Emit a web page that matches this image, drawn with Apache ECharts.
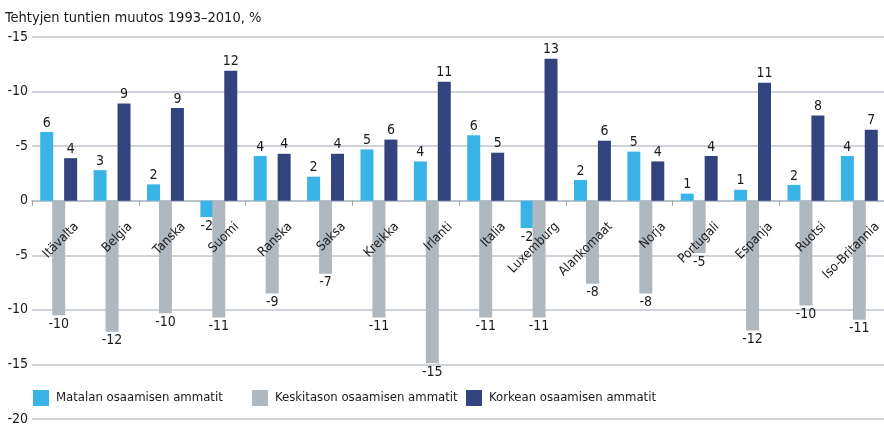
<!DOCTYPE html>
<html>
<head>
<meta charset="utf-8">
<script src="https://cdn.jsdelivr.net/npm/echarts@6/dist/echarts.min.js"></script>
<style>
  html, body { margin: 0; padding: 0; background: #fff; }
  #chart { width: 884px; height: 427px; }
</style>
</head>
<body>
<div id="chart"></div>
<script>
var countries = ['Itävalta', 'Belgia', 'Tanska', 'Suomi', 'Ranska', 'Saksa', 'Kreikka', 'Irlanti',
                 'Italia', 'Luxemburg', 'Alankomaat', 'Norja', 'Portugali', 'Espanja', 'Ruotsi', 'Iso-Britannia'];
var seriesNames = ['Matalan osaamisen ammatit', 'Keskitason osaamisen ammatit', 'Korkean osaamisen ammatit'];

// bar heights
var lowValues  = [6.3, 2.8, 1.5, -1.5, 4.1, 2.2, 4.7, 3.6, 6.0, -2.5, 1.9, 4.5, 0.65, 1.0, 1.45, 4.1];
var midValues  = [-10.5, -12.0, -10.3, -10.7, -8.5, -6.7, -10.7, -14.9, -10.7, -10.7, -7.6, -8.5, -4.8, -11.9, -9.6, -10.9];
var highValues = [3.9, 8.9, 8.5, 11.9, 4.3, 4.3, 5.6, 10.9, 4.4, 13.0, 5.5, 3.6, 4.1, 10.8, 7.8, 6.5];

// printed labels
var lowLabels  = [6, 3, 2, -2, 4, 2, 5, 4, 6, -2, 2, 5, 1, 1, 2, 4];
var midLabels  = [-10, -12, -10, -11, -9, -7, -11, -15, -11, -11, -8, -8, -5, -12, -10, -11];
var highLabels = [4, 9, 9, 12, 4, 4, 6, 11, 5, 13, 6, 4, 4, 11, 8, 7];

var colors = ['#3ab4e6', '#b0b8bf', '#33437d'];
var FONT = '"Liberation Sans Narrow", "DejaVu Sans Condensed", sans-serif';
var legendLeft = [28, 247, 461];

function makeData(values, labels) {
    return values.map(function (v, i) {
        return {
            value: v,
            label: { position: v < 0 ? 'bottom' : 'top', formatter: String(labels[i]) }
        };
    });
}

function makeSeries(idx, values, labels) {
    return {
        name: seriesNames[idx],
        type: 'bar',
        barWidth: 13,
        barGap: '-8%',
        itemStyle: { color: colors[idx] },
        label: { show: true, fontFamily: FONT, fontSize: 14, color: '#1a1a1a', distance: 2 },
        data: makeData(values, labels)
    };
}

// rotated country names hanging under the zero line
var nameSeries = {
    type: 'custom',
    silent: true,
    z: 5,
    data: countries.map(function (c, i) { return [i, 0]; }),
    renderItem: function (params, api) {
        var p = api.coord([api.value(0), api.value(1)]);
        return {
            type: 'text',
            x: p[0] + 18,
            y: p[1] + 24,
            rotation: 45 * Math.PI / 180,
            style: {
                text: countries[params.dataIndex],
                align: 'right',
                verticalAlign: 'middle',
                fontFamily: FONT,
                fontSize: 13,
                fill: '#1a1a1a'
            }
        };
    }
};

var chart = echarts.init(document.getElementById('chart'));
chart.setOption({
    animation: false,
    title: {
        text: 'Tehtyjen tuntien muutos 1993–2010, %',
        left: 0, top: 6,
        textStyle: { fontFamily: FONT, fontSize: 14.5, fontWeight: 'normal', color: '#1a1a1a' }
    },
    legend: seriesNames.map(function (name, i) {
        return {
            left: legendLeft[i], top: 385,
            itemWidth: 16, itemHeight: 16,
            icon: 'rect',
            textStyle: { fontFamily: FONT, fontSize: 13, color: '#1a1a1a', padding: [0, 0, 0, 2] },
            data: [name]
        };
    }),
    grid: { left: 32, right: -2, top: 37, bottom: 8, outerBoundsMode: 'none' },
    xAxis: {
        type: 'category',
        data: countries,
        axisLine: { onZero: true, lineStyle: { color: '#b4bec6', width: 1.5 } },
        axisTick: { show: true, length: 5, lineStyle: { color: '#9aa4ac' } },
        axisLabel: { show: false }
    },
    yAxis: {
        type: 'value',
        min: -20, max: 15, interval: 5,
        axisLine: { show: false },
        axisTick: { show: false },
        axisLabel: {
            margin: 4,
            fontFamily: FONT, fontSize: 14, color: '#1a1a1a',
            formatter: function (v) { return v === 0 ? '0' : '-' + Math.abs(v); }
        },
        splitLine: { lineStyle: { color: '#bcc5cc', width: 1.5 } }
    },
    series: [
        makeSeries(0, lowValues, lowLabels),
        makeSeries(1, midValues, midLabels),
        makeSeries(2, highValues, highLabels),
        nameSeries
    ]
});
</script>
</body>
</html>
